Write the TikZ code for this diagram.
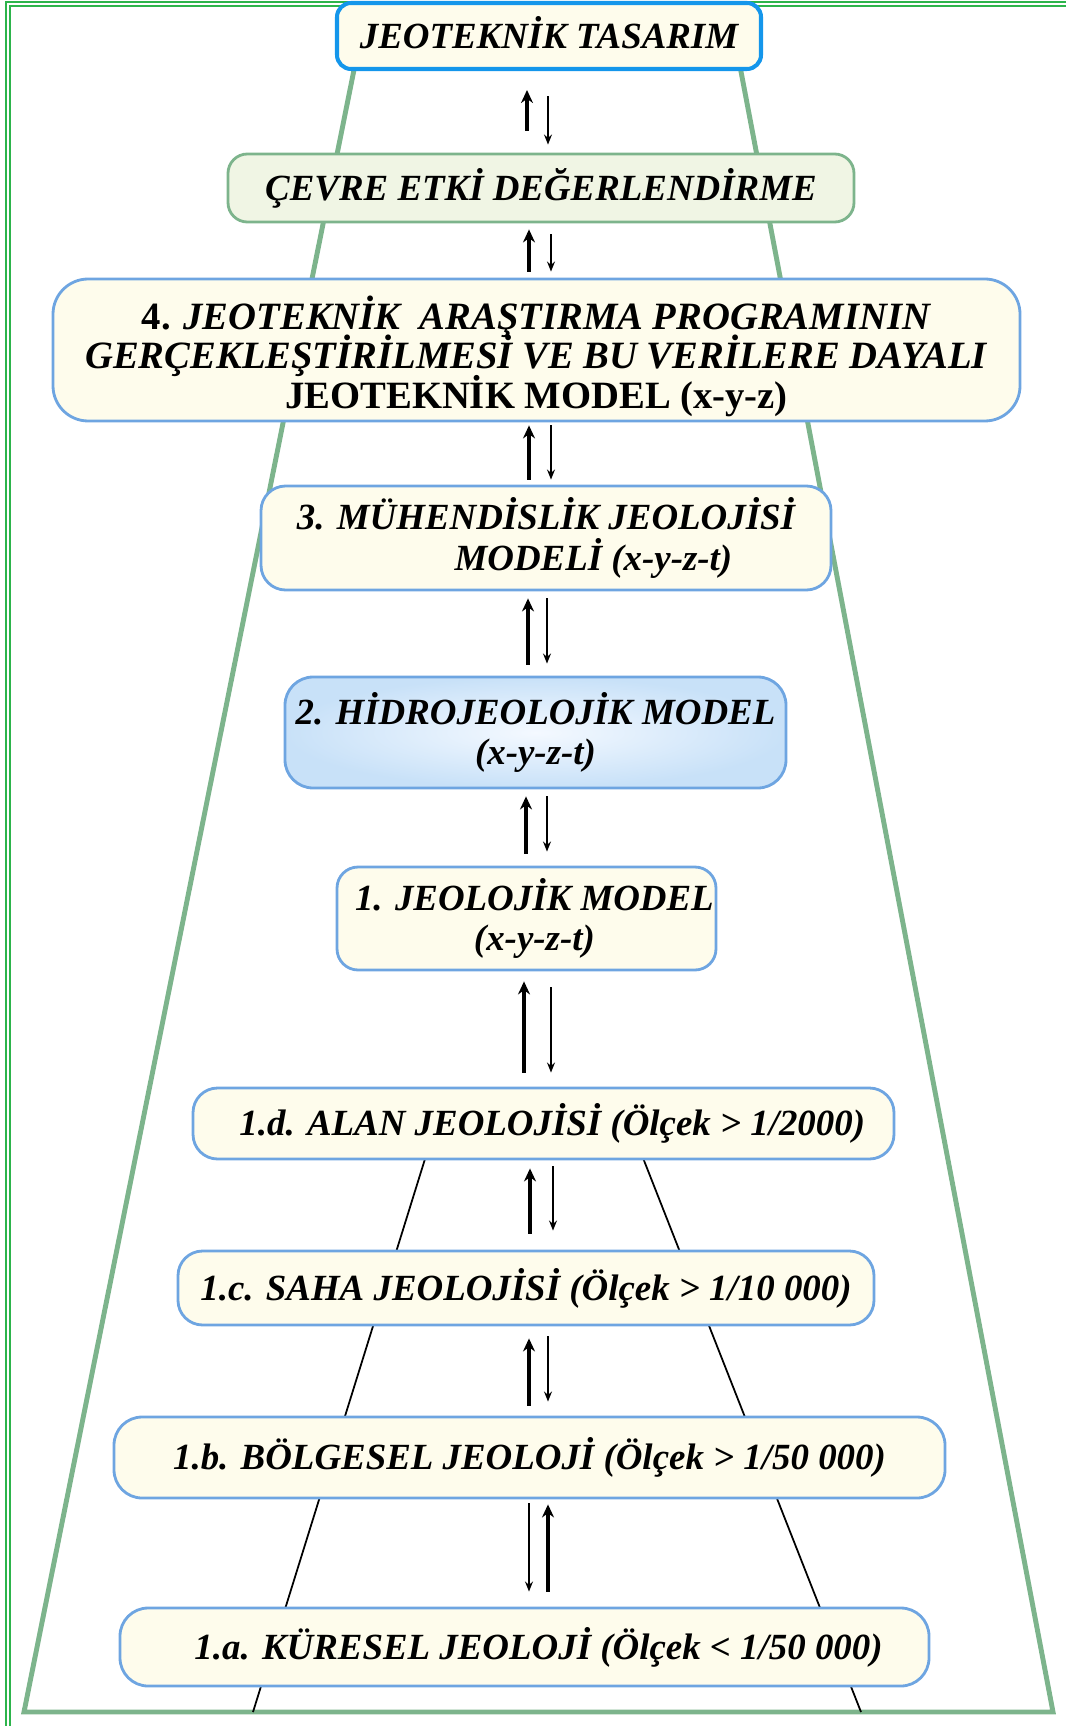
\documentclass[tikz,border=0pt]{standalone}
\usepackage{fontspec}
\setmainfont{Liberation Serif}
\usetikzlibrary{arrows.meta,calc}
\setlength{\lineskiplimit}{-30pt}

\definecolor{framegreen}{RGB}{45,180,75}
\definecolor{trapgreen}{RGB}{125,180,140}
\definecolor{topblue}{RGB}{20,150,235}
\definecolor{boxblue}{RGB}{110,165,225}
\definecolor{cream}{RGB}{254,252,236}
\definecolor{cevrefill}{RGB}{240,245,228}
\definecolor{hidroin}{RGB}{244,249,255}
\definecolor{hidroout}{RGB}{200,225,248}

\tikzset{
  box/.style={draw=boxblue, line width=1.6pt, fill=cream, rounded corners=14pt,
    inner sep=0pt, align=center, font=\fontsize{21}{23}\selectfont\bfseries\itshape},
  boxsize/.style 2 args={minimum width=#1*0.02cm, minimum height=#2*0.02cm},
  uparr/.style={line width=2pt, -{Stealth[length=7.4pt,width=6.8pt]}},
  dnarr/.style={line width=1.1pt, -{Stealth[length=5.7pt,width=4.5pt]}}
}

\begin{document}
\begin{tikzpicture}[x=0.02cm, y=-0.02cm]
\useasboundingbox (0,0) rectangle (1066,1726);
% frame
\draw[framegreen, line width=0.6pt] (1066,2) -- (6,2) -- (6,1726);
\draw[framegreen, line width=0.6pt] (1066,6) -- (10,6) -- (10,1726);
% trapezoids
\draw[trapgreen, line width=2.8pt] (360,40) -- (24,1712) -- (1053,1712) -- (735,40);
\draw[line width=1pt] (434,1130) -- (253,1712);
\draw[line width=1pt] (632,1130) -- (861,1712);

\node[box, draw=topblue, line width=2.3pt, rounded corners=8pt, boxsize={424}{66}] (tasarim) at (549,36) {\rule[-4pt]{0pt}{4pt}JEOTEKNİK TASARIM};
\node[box, draw=trapgreen, fill=cevrefill, rounded corners=11pt, boxsize={626}{68}] (cevre) at (541,188) {ÇEVRE ETKİ DEĞERLENDİRME};
\node[box, rounded corners=20pt, boxsize={967}{142}, font=\fontsize{22}{22.5}\selectfont\bfseries] (arastirma) at (536.5,350)
  {\rule{0pt}{26pt}4. \textit{JEOTEKNİK\ \ ARAŞTIRMA PROGRAMININ}\\ \textit{GERÇEKLEŞTİRİLMESİ VE BU VERİLERE DAYALI}\\ JEOTEKNİK MODEL (x-y-z)};
\node[box, boxsize={570}{104}] (muhendis) at (546,538) {3. MÜHENDİSLİK JEOLOJİSİ\\ \hspace*{54pt}MODELİ (x-y-z-t)};
\node[box, shade, inner color=hidroin, outer color=hidroout, rounded corners=16pt, boxsize={501}{111}] (hidro) at (535.5,732.5) {2. HİDROJEOLOJİK MODEL\\ (x-y-z-t)};
\node[box, rounded corners=12pt, boxsize={379}{103}] (jeoloji) at (526.5,918.5) {\hspace*{9pt}1. JEOLOJİK MODEL\\ \hspace*{9pt}(x-y-z-t)};
\node[box, boxsize={701}{71}] (alan) at (543.5,1123.5) {\hspace*{10pt}1.d. ALAN JEOLOJİSİ (Ölçek > 1/2000)};
\node[box, boxsize={696}{74}] (saha) at (526,1288) {1.c. SAHA JEOLOJİSİ (Ölçek > 1/10 000)};
\node[box, rounded corners=16pt, boxsize={831}{81}] (bolge) at (529.5,1457.5) {1.b. BÖLGESEL JEOLOJİ (Ölçek > 1/50 000)};
\node[box, rounded corners=16pt, boxsize={809}{78}] (kure) at (524.5,1647) {\hspace*{16pt}1.a. KÜRESEL JEOLOJİ (Ölçek < 1/50 000)};

% up and down arrows between the levels
\foreach \hi/\lo/\ux/\ut/\ub/\dx/\dt/\db in {
    tasarim/cevre/527/19/22/548/25/8,
    cevre/arastirma/529/6/6/551/11/6,
    arastirma/muhendis/529/3/5/551/3/5,
    muhendis/hidro/528/7/11/547/7/12,
    hidro/jeoloji/526/7/12/547/7/14,
    jeoloji/alan/524/10/14/551/16/14,
    alan/saha/530/8/16/553/6/19,
    saha/bolge/529/12/10/548/10/14,
    bolge/kure/548/5/15/529/4/15}
{
    \draw[uparr] ($(\lo.north -| \ux,0)+(0,-\ub)$) -- ($(\hi.south -| \ux,0)+(0,\ut)$);
    \draw[dnarr] ($(\hi.south -| \dx,0)+(0,\dt)$) -- ($(\lo.north -| \dx,0)+(0,-\db)$);
}
\end{tikzpicture}
\end{document}
